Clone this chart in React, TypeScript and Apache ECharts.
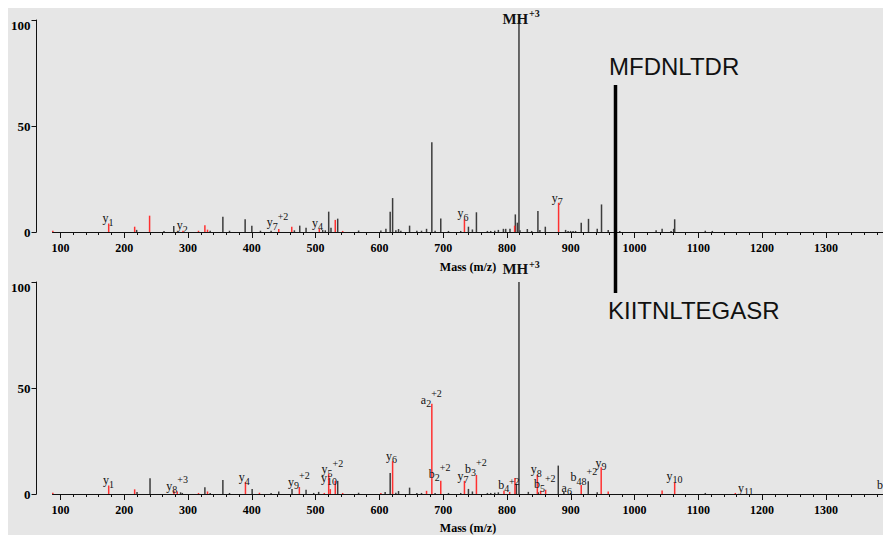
import React, { useEffect, useRef } from 'react';
import * as echarts from 'echarts';

// ---------- axes ----------
const X_MIN = 87.5;
const X_MAX = 1389.5;
const MAJOR_TICKS = [100, 200, 300, 400, 500, 600, 700, 800, 900, 1000, 1100, 1200, 1300];
const MINOR_TICKS: number[] = [];
for (let v = 100; v <= 1380; v += 20) MINOR_TICKS.push(v);
const Y_MAX = 100;
const Y_INTERVAL = 50;
const X_TITLE = 'Mass (m/z)';

// ---------- peptides ----------
const TOP_PEPTIDE = 'MFDNLTDR';
const BOTTOM_PEPTIDE = 'KIITNLTEGASR';

// ---------- top spectrum (MFDNLTDR) : [m/z, relative intensity] ----------
const TOP_BLACK: [number, number][] = [
  [219.4, 1], [262.3, 0.5], [277.6, 2.8], [334.7, 0.6], [354.6, 7.2], [365, 0.6],
  [389.5, 6], [400, 3], [413.5, 0.6], [430.2, 0.6], [466.7, 0.8], [475.1, 3],
  [485, 2], [511.1, 1], [515.2, 0.8], [520.5, 9.6], [524.1, 2], [534.6, 6.3],
  [567.4, 0.7], [602.3, 0.7], [610.2, 1.5], [616.9, 9.6], [620.7, 16], [625.8, 0.8],
  [630, 1.4], [633.6, 0.6], [647.3, 3], [658.7, 0.6], [666, 0.6], [673.9, 1.5],
  [682.2, 42.3], [687.3, 0.6], [696.2, 6.4], [708.3, 0.5], [727.5, 0.5], [739.6, 2.5],
  [745.8, 1.2], [752.1, 9.3], [769.3, 0.5], [774.5, 0.5], [780.8, 0.6], [786.5, 1],
  [794.4, 1.5], [798, 1.5], [804.7, 1.5], [813.1, 8.3], [816.3, 4.4], [818.8, 100],
  [820.4, 0.8], [831.9, 1.4], [838.7, 0.5], [848.5, 9.9], [851.6, 1], [860.1, 2.5],
  [891.9, 1], [895.8, 0.5], [899.7, 0.5], [903.6, 0.5], [907.5, 0.5], [916.4, 4.4],
  [927.8, 6.2], [941.5, 1.5], [948.2, 13], [958.7, 1], [976.8, 0.5], [1033.8, 0.8],
  [1043.2, 1.5], [1057.3, 0.5], [1061.3, 1.5], [1062.9, 6], [1110.9, 0.6], [1121.9, 0.5],
];
const TOP_RED: [number, number][] = [
  [88, 0.6], [175.6, 4], [216.3, 2.5], [239.7, 7.7], [292, 0.6], [316.4, 0.6],
  [326.4, 3.2], [330.5, 1.1], [442.2, 1.4], [462.6, 2.5], [505.8, 1.5], [530.8, 5.7],
  [542.4, 0.5], [733.3, 6], [812, 3], [880.9, 13.8],
];
// [m/z, intensity, ion, subscript, superscript]
const TOP_LABELS: [number, number, string, string, string][] = [
  [165.7, 6.6, 'y', '1', ''],
  [282.3, 3.3, 'y', '2', ''],
  [423.2, 4.5, 'y', '7', '+2'],
  [494.4, 4.3, 'y', '4', ''],
  [722.4, 8.8, 'y', '6', ''],
  [870, 16.1, 'y', '7', ''],
  [792.8, 100.5, 'MH', '', '+3'],
];

// ---------- bottom spectrum (KIITNLTEGASR) ----------
const BOTTOM_BLACK: [number, number][] = [
  [220, 1], [240.4, 7.4], [288.3, 0.8], [291, 0.5], [326.4, 3.2], [334.7, 0.5],
  [354.6, 6.6], [365, 0.5], [400.5, 2.3], [430.2, 0.5], [442.2, 1.2], [463, 2.3],
  [485, 2], [497, 0.5], [504.8, 1], [534.6, 6.2], [567.4, 0.6], [609, 1],
  [616.9, 9.9], [625.8, 0.6], [630, 1.4], [647.3, 3], [658.7, 0.5], [666, 0.5],
  [687.3, 0.5], [708.3, 0.5], [727.5, 0.5], [739.6, 2.4], [745.8, 1.2], [769.3, 0.5],
  [774.5, 0.5], [780.8, 0.6], [786.5, 0.8], [814.7, 4.7], [818.8, 100], [833.5, 1],
  [849.1, 0.8], [880.4, 13.4], [889.2, 1], [899.7, 0.5], [927.4, 6], [941.5, 0.8],
  [1110.9, 0.5],
];
const BOTTOM_RED: [number, number][] = [
  [88, 0.6], [175.6, 4], [216.3, 2.2], [277.9, 1.6], [283.1, 1.2], [316.4, 0.5],
  [330.5, 1.2], [390, 5.7], [411.9, 0.6], [474.5, 3.3], [513.6, 0.5], [520.5, 9.6],
  [523, 2.3], [530.8, 6.2], [542.4, 0.5], [602.3, 0.5], [620.7, 15.5], [673.9, 1.5],
  [682.2, 42.6], [696.2, 6.2], [733.3, 6.2], [752.1, 9], [795.3, 1.5], [804.2, 1],
  [812.5, 7.5], [847.6, 9], [852.7, 1.5], [860.6, 2], [916.4, 4.3], [947.7, 12.6],
  [958.7, 1.2], [1043.2, 1.6], [1062.9, 5.5], [1158, 0.5],
];
const BOTTOM_LABELS: [number, number, string, string, string][] = [
  [166.5, 6.6, 'y', '1', ''],
  [265.9, 3.8, 'y', '8', '+3'],
  [379.6, 8.0, 'y', '4', ''],
  [456.8, 5.7, 'y', '9', '+2'],
  [509.2, 11.6, 'y', '5', '+2'],
  [508.5, 7.6, 'y', '10', ''],
  [610.2, 18.0, 'y', '6', ''],
  [665, 44.4, 'a', '2', '+2'],
  [677.5, 9.5, 'b', '2', '+2'],
  [722.4, 8.5, 'y', '7', ''],
  [734.3, 11.8, 'b', '3', '+2'],
  [786.5, 4.3, 'b', '4', ''],
  [803.1, 3.3, '', '', '+2'],
  [837.1, 11.6, 'y', '8', ''],
  [842.2, 4.7, 'b', '5', '+2'],
  [885.6, 2.9, 'a', '6', ''],
  [899.7, 8.0, 'b', '48', '+2'],
  [938.8, 14.7, 'y', '9', ''],
  [1050, 8.5, 'y', '10', ''],
  [1162, 2.9, 'y', '11', ''],
  [1380, 4.3, 'b', '', ''],
  [792.8, 106.1, 'MH', '', '+3'],
];

const BLACK = '#3c3c3c';
const RED = '#ff3030';
const SERIF = '"Liberation Serif", "Times New Roman", serif';
const SANS = '"Liberation Sans", Arial, sans-serif';

const CHAR_W: Record<string, number> = { y: 0.5, b: 0.5, a: 0.444, M: 0.944, H: 0.778 };

function textWidth(s: string, size: number) {
  let w = 0;
  for (const c of s) w += (CHAR_W[c] ?? 0.5) * size;
  return w;
}

function stickSeries(data: [number, number][], color: string, gi: number) {
  return {
    type: 'custom',
    xAxisIndex: gi * 2,
    yAxisIndex: gi,
    silent: true,
    data,
    renderItem: (params: any, api: any) => {
      const mz = api.value(0);
      const v = api.value(1);
      const a = api.coord([mz, 0]);
      const b = api.coord([mz, v]);
      return {
        type: 'line',
        shape: { x1: a[0], y1: a[1], x2: b[0], y2: b[1] },
        style: { stroke: color, lineWidth: 1.5 },
      };
    },
  };
}

function labelSeries(labels: [number, number, string, string, string][], gi: number) {
  return {
    type: 'custom',
    xAxisIndex: gi * 2,
    yAxisIndex: gi,
    silent: true,
    clip: false,
    z: 5,
    data: labels.map((l) => [l[0], l[1]]),
    renderItem: (params: any, api: any) => {
      const l = labels[params.dataIndex];
      const p = api.coord([api.value(0), api.value(1)]);
      const isMH = l[2] === 'MH';
      const mainSize = isMH ? 15 : 12;
      const mainW = textWidth(l[2], isMH ? 15.5 : 12);
      const subW = l[3].length * 5;
      const children: any[] = [];
      if (l[2]) {
        children.push({
          type: 'text',
          x: p[0],
          y: p[1],
          style: {
            text: l[2],
            fill: '#111',
            fontFamily: SERIF,
            fontSize: mainSize,
            fontWeight: isMH ? 'bold' : 'normal',
            align: 'left',
            verticalAlign: 'middle',
          },
        });
      }
      if (l[3]) {
        children.push({
          type: 'text',
          x: p[0] + mainW,
          y: p[1] + 4,
          style: {
            text: l[3],
            fill: '#111',
            fontFamily: SERIF,
            fontSize: 10,
            align: 'left',
            verticalAlign: 'middle',
          },
        });
      }
      if (l[4]) {
        children.push({
          type: 'text',
          x: p[0] + mainW + subW,
          y: p[1] - (isMH ? 5 : 6),
          style: {
            text: l[4],
            fill: '#111',
            fontFamily: SERIF,
            fontSize: 10,
            fontWeight: isMH ? 'bold' : 'normal',
            align: 'left',
            verticalAlign: 'middle',
          },
        });
      }
      return { type: 'group', children };
    },
  };
}

function xAxes(gi: number) {
  return [
    {
      type: 'value',
      gridIndex: gi,
      min: X_MIN,
      max: X_MAX,
      position: 'bottom',
      axisLine: { show: true, onZero: false, lineStyle: { color: '#111', width: 1 } },
      axisTick: { show: true, customValues: MAJOR_TICKS, length: 6, lineStyle: { color: '#111' } },
      axisLabel: {
        customValues: MAJOR_TICKS,
        formatter: (v: number) => String(v),
        margin: 10,
        color: '#000',
        fontFamily: SERIF,
        fontWeight: 'bold',
        fontSize: 12,
      },
      splitLine: { show: false },
    },
    {
      type: 'value',
      gridIndex: gi,
      min: X_MIN,
      max: X_MAX,
      position: 'bottom',
      axisLine: { show: false, onZero: false },
      axisTick: { show: true, customValues: MINOR_TICKS, length: 3, lineStyle: { color: '#111' } },
      axisLabel: { show: false },
      splitLine: { show: false },
    },
  ];
}

function yAxis(gi: number) {
  return {
    type: 'value',
    gridIndex: gi,
    min: 0,
    max: Y_MAX,
    interval: Y_INTERVAL,
    position: 'left',
    offset: 16,
    axisLine: { show: true, lineStyle: { color: '#111', width: 1 } },
    axisTick: { show: true, length: 5, lineStyle: { color: '#111' } },
    axisLabel: {
      margin: 6,
      color: '#000',
      fontFamily: SERIF,
      fontWeight: 'bold',
      fontSize: 13,
      formatter: (v: number) => (v === Y_MAX ? '{t|' + v + '}' : String(v)),
      rich: { t: { padding: [10, 0, 0, 0], fontFamily: SERIF, fontWeight: 'bold', fontSize: 13, color: '#000' } },
    },
    splitLine: { show: false },
  };
}

export default function App() {
  const ref = useRef<HTMLDivElement>(null);
  useEffect(() => {
    document.documentElement.style.overflow = 'hidden';
    document.body.style.overflow = 'hidden';
    const chart = echarts.init(ref.current!, undefined, { renderer: 'svg' });
    chart.setOption({
      animation: false,
      backgroundColor: '#e6e6e6',
      grid: [
        { left: 43, right: 0, top: 12, height: 212 },
        { left: 43, right: 0, top: 274, height: 212 },
      ],
      xAxis: [...xAxes(0), ...xAxes(1)],
      yAxis: [yAxis(0), yAxis(1)],
      series: [
        stickSeries(TOP_BLACK, BLACK, 0),
        stickSeries(TOP_RED, RED, 0),
        labelSeries(TOP_LABELS, 0),
        stickSeries(BOTTOM_BLACK, BLACK, 1),
        stickSeries(BOTTOM_RED, RED, 1),
        labelSeries(BOTTOM_LABELS, 1),
      ],
      graphic: [
        {
          type: 'text',
          x: 460,
          y: 259,
          style: { text: X_TITLE, fill: '#000', font: 'bold 12px ' + SERIF, align: 'center', verticalAlign: 'middle' },
        },
        {
          type: 'text',
          x: 460,
          y: 520,
          style: { text: X_TITLE, fill: '#000', font: 'bold 12px ' + SERIF, align: 'center', verticalAlign: 'middle' },
        },
        {
          type: 'line',
          z: 10,
          shape: { x1: 607.5, y1: 77, x2: 607.5, y2: 285 },
          style: { stroke: '#000', lineWidth: 3.5 },
        },
        {
          type: 'text',
          x: 601,
          y: 58,
          z: 10,
          style: { text: TOP_PEPTIDE, fill: '#111', font: '24px ' + SANS, align: 'left', verticalAlign: 'middle' },
        },
        {
          type: 'text',
          x: 600,
          y: 302,
          z: 10,
          style: { text: BOTTOM_PEPTIDE, fill: '#111', font: '24px ' + SANS, align: 'left', verticalAlign: 'middle' },
        },
      ],
    });
    return () => chart.dispose();
  }, []);
  return (
    <div
      ref={ref}
      style={{ position: 'absolute', left: 8, top: 8, width: 875, height: 527, background: '#e6e6e6' }}
    />
  );
}
